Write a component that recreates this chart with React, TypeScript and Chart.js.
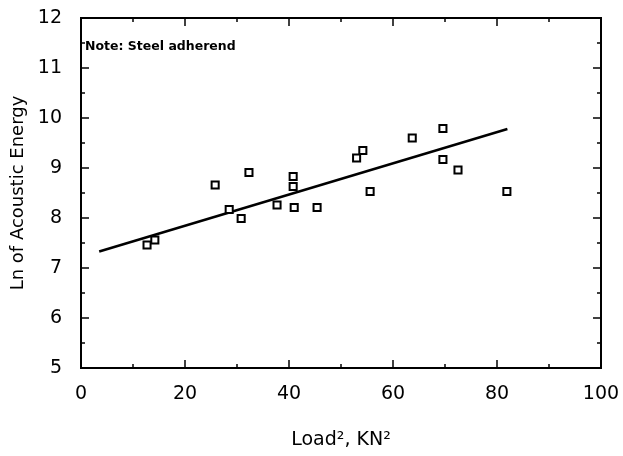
import { useEffect, useRef } from 'react';
import { Chart, registerables } from 'chart.js';

Chart.register(...registerables);

// Measured data (Load^2 in KN^2, Ln of acoustic energy)
const loadSquared = [12.7, 14.2, 25.8, 28.5, 30.8, 32.3, 37.7, 40.8, 40.8, 41.0, 45.4, 53.0, 54.2, 55.6, 63.7, 69.6, 69.6, 72.5, 81.9];
const lnEnergy = [7.46, 7.56, 8.66, 8.17, 7.99, 8.91, 8.26, 8.83, 8.63, 8.21, 8.21, 9.2, 9.35, 8.53, 9.6, 9.79, 9.17, 8.96, 8.53];

// Regression line end points
const fitX = [3.5, 82];
const fitY = [7.33, 9.78];

// Axis ranges / ticks
const xRange = [0, 100];
const yRange = [5, 12];
const xMajorStep = 20;
const xMinorStep = 10;
const yMajorStep = 1;
const yMinorStep = 0.5;

const noteText = 'Note: Steel adherend';
const xTitle = 'Load\u00B2, KN\u00B2';
const yTitle = 'Ln of Acoustic Energy';

const FONT = '"DejaVu Sans", "Liberation Sans", sans-serif';

const framePlugin = {
  id: 'frameTicks',
  afterDraw(chart: any) {
    const { ctx, chartArea } = chart;
    const { left, right, top, bottom } = chartArea;
    const xs = chart.scales.x;
    const ys = chart.scales.y;
    ctx.save();
    ctx.strokeStyle = '#000';
    ctx.lineWidth = 2;
    ctx.strokeRect(left, top, right - left, bottom - top);
    ctx.lineWidth = 1.5;
    const seg = (x1: number, y1: number, x2: number, y2: number) => {
      ctx.beginPath();
      ctx.moveTo(x1, y1);
      ctx.lineTo(x2, y2);
      ctx.stroke();
    };
    for (let v = xRange[0]; v <= xRange[1] + 1e-9; v += xMinorStep) {
      const px = xs.getPixelForValue(v);
      const major = Math.abs(v / xMajorStep - Math.round(v / xMajorStep)) < 1e-6;
      const len = major ? 8 : 4;
      seg(px, bottom, px, bottom - len);
      seg(px, top, px, top + len);
    }
    for (let v = yRange[0]; v <= yRange[1] + 1e-9; v += yMinorStep) {
      const py = ys.getPixelForValue(v);
      const major = Math.abs(v / yMajorStep - Math.round(v / yMajorStep)) < 1e-6;
      const len = major ? 8 : 4;
      seg(left, py, left + len, py);
      seg(right, py, right - len, py);
    }
    ctx.fillStyle = '#000';
    ctx.font = 'bold 12.5px ' + FONT;
    ctx.textBaseline = 'alphabetic';
    ctx.textAlign = 'left';
    ctx.fillText(noteText, left + 4, top + 32);
    ctx.restore();
  },
};

export default function App() {
  const canvasRef = useRef<HTMLCanvasElement | null>(null);

  useEffect(() => {
    if (!canvasRef.current) return;
    const points = loadSquared.map((x, i) => ({ x, y: lnEnergy[i] }));
    const fit = fitX.map((x, i) => ({ x, y: fitY[i] }));
    const chart = new Chart(canvasRef.current, {
      type: 'scatter',
      data: {
        datasets: [
          {
            label: 'Data',
            data: points,
            pointStyle: 'rect',
            pointRadius: 5,
            pointBorderWidth: 2,
            pointBorderColor: '#000',
            pointBackgroundColor: '#fff',
            showLine: false,
            order: 0,
          },
          {
            label: 'Fit',
            data: fit,
            showLine: true,
            borderColor: '#000',
            borderWidth: 2.5,
            pointRadius: 0,
            fill: false,
            order: 1,
          } as any,
        ],
      },
      options: {
        responsive: false,
        animation: false,
        layout: { padding: { top: 18, right: 22, left: 0, bottom: 0 } },
        plugins: {
          legend: { display: false },
          tooltip: { enabled: false },
        },
        scales: {
          x: {
            type: 'linear',
            min: xRange[0],
            max: xRange[1],
            afterFit: (s: any) => {
              s.height = 88;
              s.paddingLeft = 0;
              s.paddingRight = 0;
            },
            grid: { display: false, drawTicks: false },
            border: { display: false },
            ticks: {
              stepSize: xMajorStep,
              color: '#000',
              font: { family: FONT, size: 19 },
              padding: 15,
              maxRotation: 0,
            },
            title: {
              display: true,
              text: xTitle,
              color: '#000',
              font: { family: FONT, size: 19 },
              padding: { top: 0, bottom: 5 },
            },
          },
          y: {
            type: 'linear',
            min: yRange[0],
            max: yRange[1],
            afterFit: (s: any) => {
              s.width = 81;
              s.paddingTop = 0;
              s.paddingBottom = 0;
            },
            grid: { display: false, drawTicks: false },
            border: { display: false },
            ticks: {
              stepSize: yMajorStep,
              color: '#000',
              font: { family: FONT, size: 19 },
              padding: 19,
            },
            title: {
              display: true,
              text: yTitle,
              color: '#000',
              font: { family: FONT, size: 18 },
              padding: { top: 8, bottom: 0 },
            },
          },
        },
      },
      plugins: [framePlugin],
    });
    return () => chart.destroy();
  }, []);

  return (
    <div style={{ position: 'fixed', left: 0, top: 0, width: 623, height: 456, background: '#fff' }}>
      <canvas ref={canvasRef} width={623} height={456} />
    </div>
  );
}
